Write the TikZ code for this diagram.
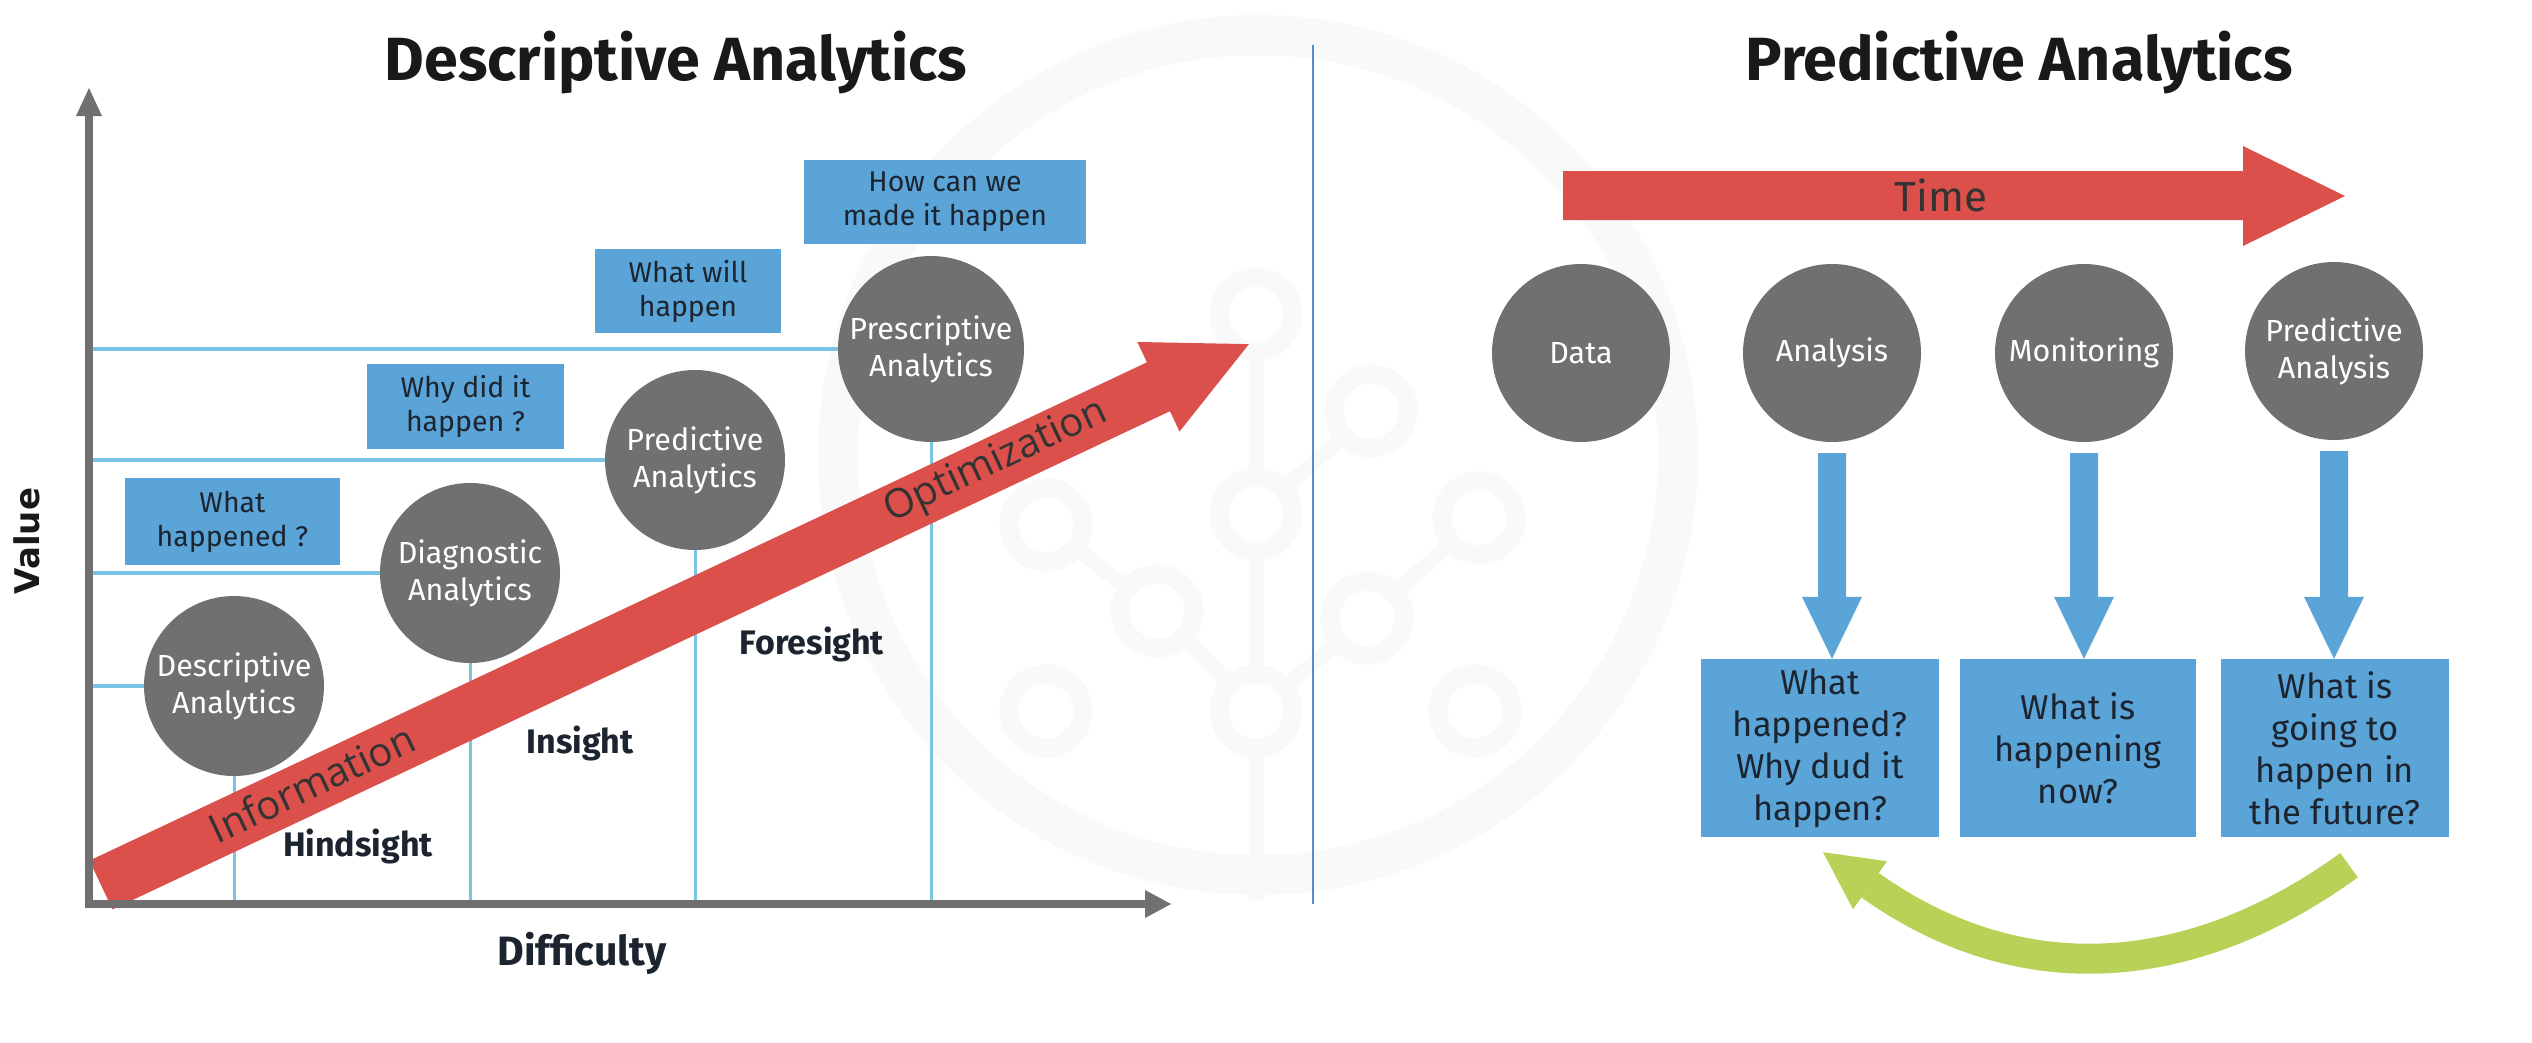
\documentclass[tikz,border=0pt]{standalone}
\usepackage{fontspec}
\setmainfont{Fira Sans}
\newfontfamily\axisfont{DejaVu Sans}
\newfontfamily\bandfont{Open Sans}
\usetikzlibrary{calc}

\definecolor{arrowred}{RGB}{219,80,74}
\definecolor{boxblue}{RGB}{91,164,216}
\definecolor{guideblue}{RGB}{125,196,228}
\definecolor{discgray}{RGB}{112,112,112}
\definecolor{axisgray}{RGB}{112,112,112}
\definecolor{sepblue}{RGB}{90,140,205}
\definecolor{loopgreen}{RGB}{183,210,86}
\definecolor{inkdark}{RGB}{28,36,48}
\definecolor{wmarkgray}{RGB}{249,249,249}

% downward block arrow from a disc to the answer box below it
\newcommand{\blueDrop}[2]{%
  \fill[boxblue] ($(#1.south)+(-14,11)$) -- ($(#1.south)+(14,11)$)
    -- ($(#1.south |- #2.north)+(14,-62)$) -- ($(#1.south |- #2.north)+(30,-62)$)
    -- (#1.south |- #2.north) -- ($(#1.south |- #2.north)+(-30,-62)$)
    -- ($(#1.south |- #2.north)+(-14,-62)$) -- cycle;}

\begin{document}
\begin{tikzpicture}[x=1pt,y=-1pt,
  disc/.style={circle, fill=discgray, minimum size=#1, inner sep=0pt, text=white,
    align=center, font=\fontsize{30.5}{37}\selectfont},
  disc/.default=180pt,
  qbox/.style={rectangle, fill=boxblue, inner sep=0pt, text=inkdark, align=center,
    font=\fontsize{28.5}{34}\selectfont},
  abox/.style={rectangle, fill=boxblue, inner sep=0pt, text=inkdark, align=center,
    font=\fontsize{34.5}{42}\selectfont, minimum height=178pt},
  phase/.style={font=\bfseries\fontsize{34}{38}\selectfont, text=inkdark},
  guideh/.style={guideblue, line width=4.5pt},
  guidev/.style={guideblue, line width=3pt},
  titletext/.style={font=\bfseries\fontsize{61}{66}\selectfont, text=black!90, anchor=base},
  bandtext/.style={font=\bandfont\fontsize{40}{44}\selectfont, text=black!80, rotate=25.23},
  wmark/.style={wmarkgray, line width=#1},
  wring/.style={wmarkgray, line width=19pt, fill=white},
]
\useasboundingbox (0,0) rectangle (2532,1042);
\fill[white] (0,0) rectangle (2532,1042);

% faint background emblem
\draw[wmark=40pt] (1258,455) circle[radius=420pt];
\coordinate (w1) at (1256,314);
\coordinate (w2) at (1371,411);
\coordinate (w3) at (1046,525);
\coordinate (w4) at (1256,514);
\coordinate (w5) at (1479,518);
\coordinate (w6) at (1157,611);
\coordinate (w7) at (1367,618);
\coordinate (w8) at (1046,711);
\coordinate (w9) at (1256,711);
\coordinate (w10) at (1475,711);
\coordinate (w11) at (1256,900);
\draw[wmark=15pt] (w1) -- (w4) -- (w9) -- (w11);
\draw[wmark=15pt] (w3) -- (w6) -- (w9) -- (w7) -- (w5);
\draw[wmark=15pt] (w2) -- (w4);
\foreach \w in {w1,w2,w3,w4,w5,w6,w7,w8,w9,w10}
  \draw[wring] (\w) circle[radius=37pt];

% ---------- left panel: value / difficulty chart ----------
\node[titletext] (ltitle) at (676,80) {Descriptive Analytics};

\coordinate (O) at (89,904);
\coordinate (cDesc) at (234,686);
\coordinate (cDiag) at (470,573);
\coordinate (cPred) at (695,460);
\coordinate (cPresc) at (931,349);

% guide lines from the axes to each stage
\foreach \c in {cDesc,cDiag,cPred,cPresc}{
  \draw[guideh] (\c -| O) -- (\c);
  \draw[guidev] (\c) -- (\c |- O);
}

\node[disc] (desc) at (cDesc) {Descriptive\\Analytics};
\node[disc] (diag) at (cDiag) {Diagnostic\\Analytics};
\node[disc] (pred) at (cPred) {Predictive\\Analytics};
\node[disc=186pt] (presc) at (cPresc) {Prescriptive\\Analytics};

\node[qbox, minimum width=215pt, minimum height=87pt] (q1) at (232.5,521.5) {What\\happened ?};
\node[qbox, minimum width=197pt, minimum height=85pt] (q2) at (465.5,406.5) {Why did it\\happen ?};
\node[qbox, minimum width=186pt, minimum height=84pt] (q3) at (688,291) {What will\\happen};
\node[qbox, minimum width=282pt, minimum height=84pt] (q4) at (945,202) {How can we\\made it happen};

% rising block arrow
\begin{scope}[shift={(101,885)}, rotate=25.23]
  \fill[arrowred] (0,-27) -- (1169,-27) -- (1169,-49.5) -- (1269,0)
    -- (1169,49.5) -- (1169,27) -- (0,27) -- cycle;
\end{scope}
\node[bandtext] (info) at (312,783) {Information};
\node[bandtext] (optim) at (996,462) {Optimization};

% axes
\coordinate (ytip) at (89,88);
\coordinate (xtip) at (1171,904);
\draw[axisgray, line width=8pt] (89,908) -- (89,112);
\fill[axisgray] (ytip) -- ++(13,28) -- ++(-26,0) -- cycle;
\draw[axisgray, line width=8pt] (85,904) -- (1147,904);
\fill[axisgray] (xtip) -- ++(-26,-14) -- ++(0,28) -- cycle;

\node[phase] (hind) at (358,846) {Hindsight};
\node[phase] (ins) at (580,743) {Insight};
\node[phase] (fore) at (812,644) {Foresight};
\node[font=\bfseries\fontsize{41}{45}\selectfont, text=inkdark] (diff) at (582,953) {Difficulty};
\node[rotate=90, font=\axisfont\bfseries\fontsize{34}{38}\selectfont, text=black!90] (val) at (27,541) {Value};

% divider
\draw[sepblue, line width=2.5pt] (1313,45) -- (1313,904);

% ---------- right panel: predictive flow ----------
\node[titletext] (rtitle) at (2019,80) {Predictive Analytics};

\fill[arrowred] (1563,171) -- (2243,171) -- (2243,146) -- (2345,196)
  -- (2243,246) -- (2243,220) -- (1563,220) -- cycle;
\node[font=\fontsize{42}{46}\selectfont, text=black!80] (time) at (1941,195) {Time};

\node[disc=178pt] (data) at (1581,353) {Data};
\node[disc=178pt] (analysis) at (1832,353) {Analysis};
\node[disc=178pt] (monitor) at (2084,353) {Monitoring};
\node[disc=178pt] (predan) at (2334,351) {Predictive\\Analysis};

\node[abox, minimum width=238pt] (a1) at (1820,748) {What\\happened?\\Why dud it\\happen?};
\node[abox, minimum width=236pt] (a2) at (2078,748) {What is\\happening\\now?};
\node[abox, minimum width=228pt] (a3) at (2335,748) {What is\\going to\\happen in\\the future?};

\blueDrop{analysis}{a1}
\blueDrop{monitor}{a2}
\blueDrop{predan}{a3}

% feedback arrow from the future back to the past
\coordinate (gstart) at ($(a3.south)+(14,28)$);
\coordinate (gbase) at ($(a1.south)+(50,48)$);
\coordinate (gtip) at ($(a1.south)+(3,15)$);
\draw[loopgreen, line width=30pt] (gstart) .. controls +(-153,111) and +(155,110) .. (gbase);
\fill[loopgreen] (gtip) -- ($(gbase)+(17,-24)$) -- ($(gbase)+(-17,24)$) -- cycle;
\end{tikzpicture}
\end{document}
